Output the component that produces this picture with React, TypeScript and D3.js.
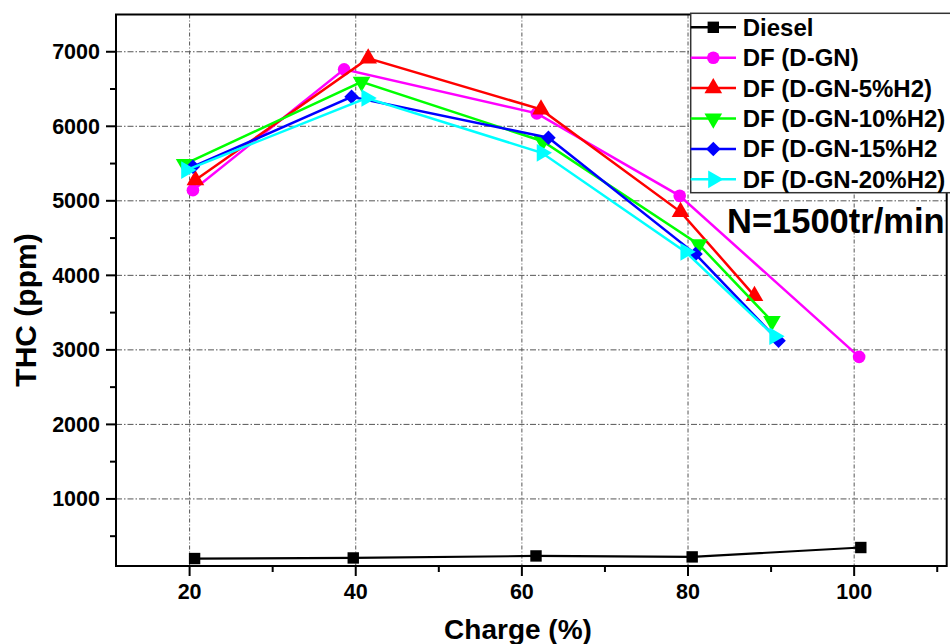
import React from "react";
import * as d3 from "d3";

const charge = [20, 40, 60, 80, 100];
const seriesNames = ["Diesel", "DF (D-GN)", "DF (D-GN-5%H2)", "DF (D-GN-10%H2)", "DF (D-GN-15%H2", "DF (D-GN-20%H2)"];
const seriesColors = ["#000000", "#ff00ff", "#ff0000", "#00ff00", "#0000ff", "#00ffff"];
const seriesShapes = ["square", "circle", "triUp", "triDown", "diamond", "triRight"];

const dieselX = [20.6, 39.7, 61.7, 80.5, 100.8];
const dieselY = [200, 208, 235, 222, 348];
const dgnX = [20.4, 38.6, 61.8, 79.0, 100.6];
const dgnY = [5143, 6764, 6173, 5067, 2906];
const h5X = [20.7, 41.5, 62.3, 79.1, 88.0];
const h5Y = [5278, 6911, 6227, 4852, 3725];
const h10X = [19.4, 40.7, 62.5, 81.3, 90.1];
const h10Y = [5493, 6597, 5800, 4415, 3385];
const h15X = [20.4, 39.5, 63.2, 80.9, 90.9];
const h15Y = [5457, 6396, 5846, 4285, 3121];
const h20X = [19.6, 41.3, 62.4, 79.7, 90.4];
const h20Y = [5412, 6380, 5644, 4315, 3184];

const allX = [dieselX, dgnX, h5X, h10X, h15X, h20X];
const allY = [dieselY, dgnY, h5Y, h10Y, h15Y, h20Y];

const yTicks = [1000, 2000, 3000, 4000, 5000, 6000, 7000];
const yMinor = [500, 1500, 2500, 3500, 4500, 5500, 6500];
const xTicks = charge;
const xMinor = [30, 50, 70, 90, 110];

const FONT = "'Liberation Sans', Arial, Helvetica, sans-serif";

function markerPath(shape: string): { d: string; rot: number } {
  if (shape === "square") return { d: d3.symbol(d3.symbolSquare, 130)()!, rot: 0 };
  if (shape === "circle") return { d: d3.symbol(d3.symbolCircle, 125)()!, rot: 0 };
  if (shape === "diamond") return { d: d3.symbol(d3.symbolSquare, 105)()!, rot: 45 };
  const tri = d3.symbol(d3.symbolTriangle, 135)()!;
  if (shape === "triUp") return { d: tri, rot: 0 };
  if (shape === "triDown") return { d: tri, rot: 180 };
  return { d: tri, rot: 90 };
}

export default function App() {
  const W = 950, H = 644;
  const left = 116, right = 946.7, top = 14.5, bottom = 566;
  const x = d3.scaleLinear().domain([11.14, 111.14]).range([left, right]);
  const y = d3.scaleLinear().domain([100, 7500]).range([bottom, top]);
  const line = d3.line<[number, number]>().x((d) => x(d[0])).y((d) => y(d[1]));

  const legX = 690.7, legY = 13.3, legRow = 30.4;

  return (
    <svg width={W} height={H} style={{ position: "absolute", left: 0, top: 0, background: "#fff" }} fontFamily={FONT}>
      <rect x={0} y={0} width={W} height={H} fill="#fff" />
      {/* grid */}
      {xTicks.map((t) => (
        <line key={"gx" + t} x1={x(t)} x2={x(t)} y1={top} y2={bottom} stroke="#555" strokeWidth={1} strokeDasharray="4,2,1,2" />
      ))}
      {yTicks.map((t) => (
        <line key={"gy" + t} x1={left} x2={right} y1={y(t)} y2={y(t)} stroke="#555" strokeWidth={1} strokeDasharray="6,2,1.5,2" />
      ))}
      {/* axes frame */}
      <rect x={left} y={top} width={right - left} height={bottom - top} fill="none" stroke="#000" strokeWidth={2} />
      {/* y ticks */}
      {yTicks.map((t) => (
        <g key={"yt" + t}>
          <line x1={left - 10} x2={left} y1={y(t)} y2={y(t)} stroke="#000" strokeWidth={2} />
          <text x={left - 16} y={y(t) + 7.5} textAnchor="end" fontSize={21.5} fontWeight="bold">{t}</text>
        </g>
      ))}
      {yMinor.map((t) => (
        <line key={"ym" + t} x1={left - 6} x2={left} y1={y(t)} y2={y(t)} stroke="#000" strokeWidth={2} />
      ))}
      {/* x ticks */}
      {xTicks.map((t) => (
        <g key={"xt" + t}>
          <line x1={x(t)} x2={x(t)} y1={bottom} y2={bottom + 10} stroke="#000" strokeWidth={2} />
          <text x={x(t)} y={bottom + 33} textAnchor="middle" fontSize={21.5} fontWeight="bold">{t}</text>
        </g>
      ))}
      {xMinor.map((t) => (
        <line key={"xm" + t} x1={x(t)} x2={x(t)} y1={bottom} y2={bottom + 6} stroke="#000" strokeWidth={2} />
      ))}
      {/* axis titles */}
      <text x={518} y={639} textAnchor="middle" fontSize={28} fontWeight="bold">Charge (%)</text>
      <text transform={`translate(36,310) rotate(-90)`} textAnchor="middle" fontSize={30} fontWeight="bold">THC (ppm)</text>
      {/* series */}
      {allX.map((xs, i) => {
        const pts: [number, number][] = xs.map((v, j) => [v, allY[i][j]]);
        const m = markerPath(seriesShapes[i]);
        return (
          <g key={"s" + i}>
            <path d={line(pts)!} fill="none" stroke={seriesColors[i]} strokeWidth={i === 0 ? 2.2 : 2.5} />
            {pts.map((p, j) => (
              <path key={j} d={m.d} transform={`translate(${x(p[0])},${y(p[1])}) rotate(${m.rot})`} fill={seriesColors[i]} />
            ))}
          </g>
        );
      })}
      {/* annotation */}
      <text x={727} y={233} fontSize={34.5} fontWeight="bold">N=1500tr/min</text>
      {/* legend */}
      <rect x={legX} y={legY} width={270} height={179.4} fill="#fff" stroke="#333" strokeWidth={1.5} />
      {seriesNames.map((n, i) => {
        const cy = legY + 14 + i * legRow;
        const m = markerPath(seriesShapes[i]);
        return (
          <g key={"l" + i}>
            <line x1={legX} x2={736} y1={cy} y2={cy} stroke={seriesColors[i]} strokeWidth={2.5} />
            <path d={m.d} transform={`translate(713.3,${cy}) rotate(${m.rot})`} fill={seriesColors[i]} />
            <text x={742.7} y={cy + 8.5} fontSize={24} fontWeight="bold">{n}</text>
          </g>
        );
      })}
    </svg>
  );
}
